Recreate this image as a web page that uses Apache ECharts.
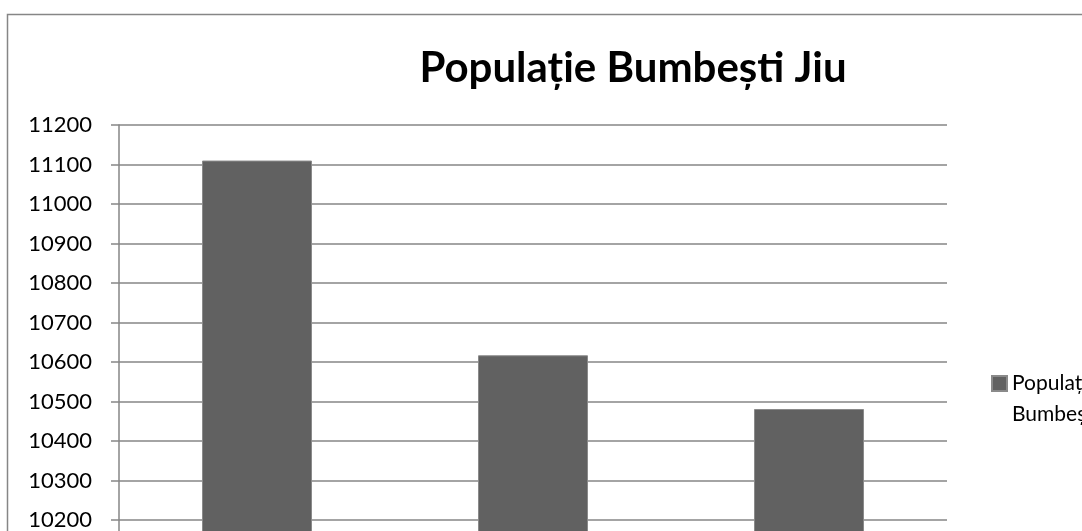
<!DOCTYPE html>
<html><head><meta charset="utf-8">
<script src="https://cdn.jsdelivr.net/npm/echarts@6/dist/echarts.min.js"></script>
<style>html,body{margin:0;padding:0;background:#fff}#c{width:1082px;height:531px}</style>
</head><body><div id="c"></div>
<script>
const categories = ['1992', '2002', '2011'];
const seriesName = 'Populație Bumbești Jiu';
const values = [11110, 10617, 10481];
const yMin = 10000, yMax = 11200, yStep = 100;

const chart = echarts.init(document.getElementById('c'), null, {renderer: 'canvas'});
const grey = '#868686';
chart.setOption({
  animation: false,
  backgroundColor: '#fff',
  textStyle: {fontFamily: 'Lato'},
  graphic: [{
    type: 'rect', left: 5, top: 12, z: -1,
    shape: {width: 1300, height: 700},
    style: {fill: 'none', stroke: grey, lineWidth: 1.5}
  }],
  title: {
    text: 'Populație Bumbești Jiu', left: 628, textAlign: 'center', top: 42,
    textStyle: {fontFamily: 'Lato', fontWeight: 'bold', fontSize: 42, color: '#000'}
  },
  legend: {
    left: 991, top: 337, padding: 0, itemWidth: 15, itemHeight: 15, itemGap: 7,
    icon: 'rect',
    data: [seriesName],
    formatter: () => '\nPopulație\nBumbești Jiu',
    textStyle: {fontFamily: 'Lato', fontSize: 21, color: '#000', lineHeight: 31}
  },
  grid: {left: 119, width: 828, top: 125, height: 474, containLabel: false, outerBoundsMode: 'none'},
  xAxis: {
    type: 'category', data: categories,
    axisLine: {lineStyle: {color: grey, width: 1.5}}, axisTick: {show: true, lineStyle: {color: grey}},
    axisLabel: {fontSize: 21, color: '#000'}
  },
  yAxis: {
    type: 'value', min: yMin, max: yMax, interval: yStep,
    axisLine: {show: true, lineStyle: {color: grey, width: 1.5}},
    axisTick: {show: true, length: 8, lineStyle: {color: grey, width: 1.5}},
    splitLine: {lineStyle: {color: grey, width: 1.5}},
    axisLabel: {fontFamily: 'Lato', fontSize: 22, color: '#000', margin: 27, formatter: v => String(v)}
  },
  series: [{
    name: seriesName, type: 'bar', data: values, barWidth: 110,
    itemStyle: {color: '#616161', borderColor: '#8a8a8a', borderWidth: 1}
  }]
});
</script></body></html>
